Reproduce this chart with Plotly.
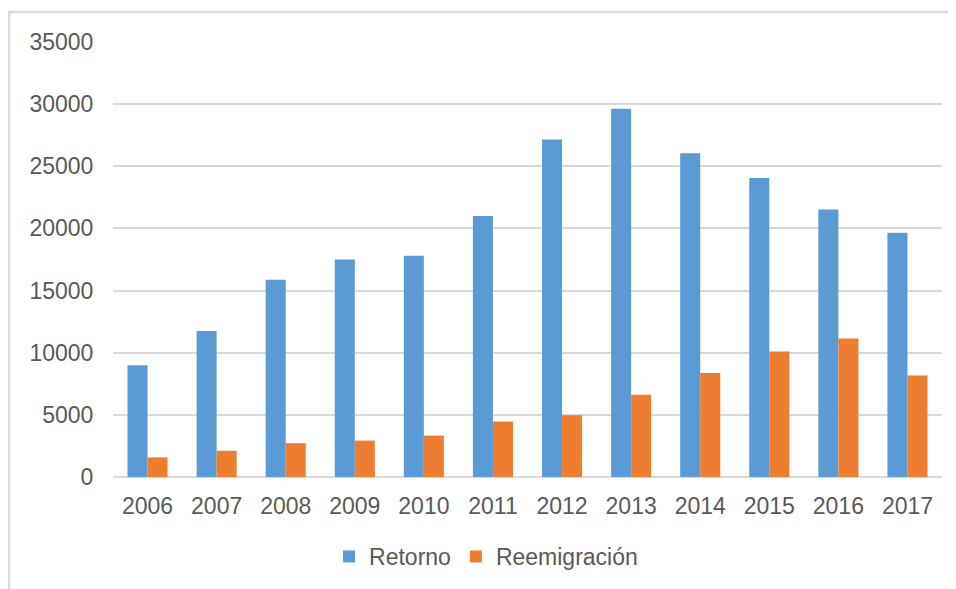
import plotly.graph_objects as go

years = ["2006", "2007", "2008", "2009", "2010", "2011", "2012", "2013", "2014", "2015", "2016", "2017"]
retorno = [9000, 11750, 15870, 17500, 17810, 21000, 27160, 29620, 26040, 24060, 21520, 19660]
reemigracion = [1580, 2110, 2720, 2930, 3330, 4460, 4970, 6620, 8360, 10100, 11140, 8170]
y_ticks = [0, 5000, 10000, 15000, 20000, 25000, 30000, 35000]

fig = go.Figure()
fig.add_trace(go.Bar(x=years, y=retorno, name="Retorno", marker=dict(color="#5B9BD5", line=dict(width=0))))
fig.add_trace(go.Bar(x=years, y=reemigracion, name="Reemigración", marker=dict(color="#ED7D31", line=dict(width=0))))

font_family = "Liberation Sans, Arial, sans-serif"
# page body has an 8px margin, so the figure is offset by 8px right/down
fig.update_layout(
    width=948, height=581,
    margin=dict(l=105, r=14, t=34, b=111),
    paper_bgcolor="white", plot_bgcolor="white",
    barmode="group", bargap=0.42, bargroupgap=0,
    font=dict(family=font_family, size=23, color="#595959"),
    showlegend=True,
    legend=dict(orientation="h", x=0.45, xanchor="center", y=-0.18, yanchor="middle",
                font=dict(size=23, color="#595959"), itemwidth=30, traceorder="normal"),
    xaxis=dict(showgrid=False, showline=False, ticks="outside", ticklen=8, tickcolor="rgba(0,0,0,0)",
               tickfont=dict(size=23, color="#595959")),
    yaxis=dict(range=[0, 35000], tickvals=y_ticks, ticktext=[str(v) for v in y_ticks],
               showgrid=True, gridcolor="#D9D9D9", gridwidth=1.5,
               zeroline=True, zerolinecolor="#D9D9D9", zerolinewidth=1.5,
               showline=False, ticks="outside", ticklen=14, tickcolor="rgba(0,0,0,0)",
               tickfont=dict(size=23, color="#595959")),
)
fig.add_shape(type="rect", xref="paper", yref="paper",
              x0=(1 - 105) / 829, x1=1.2, y0=-0.4, y1=(470.3 - 4) / 436.3,
              line=dict(color="#D9D9D9", width=2.5), fillcolor="rgba(0,0,0,0)", layer="below")

fig.write_html("out.html")
